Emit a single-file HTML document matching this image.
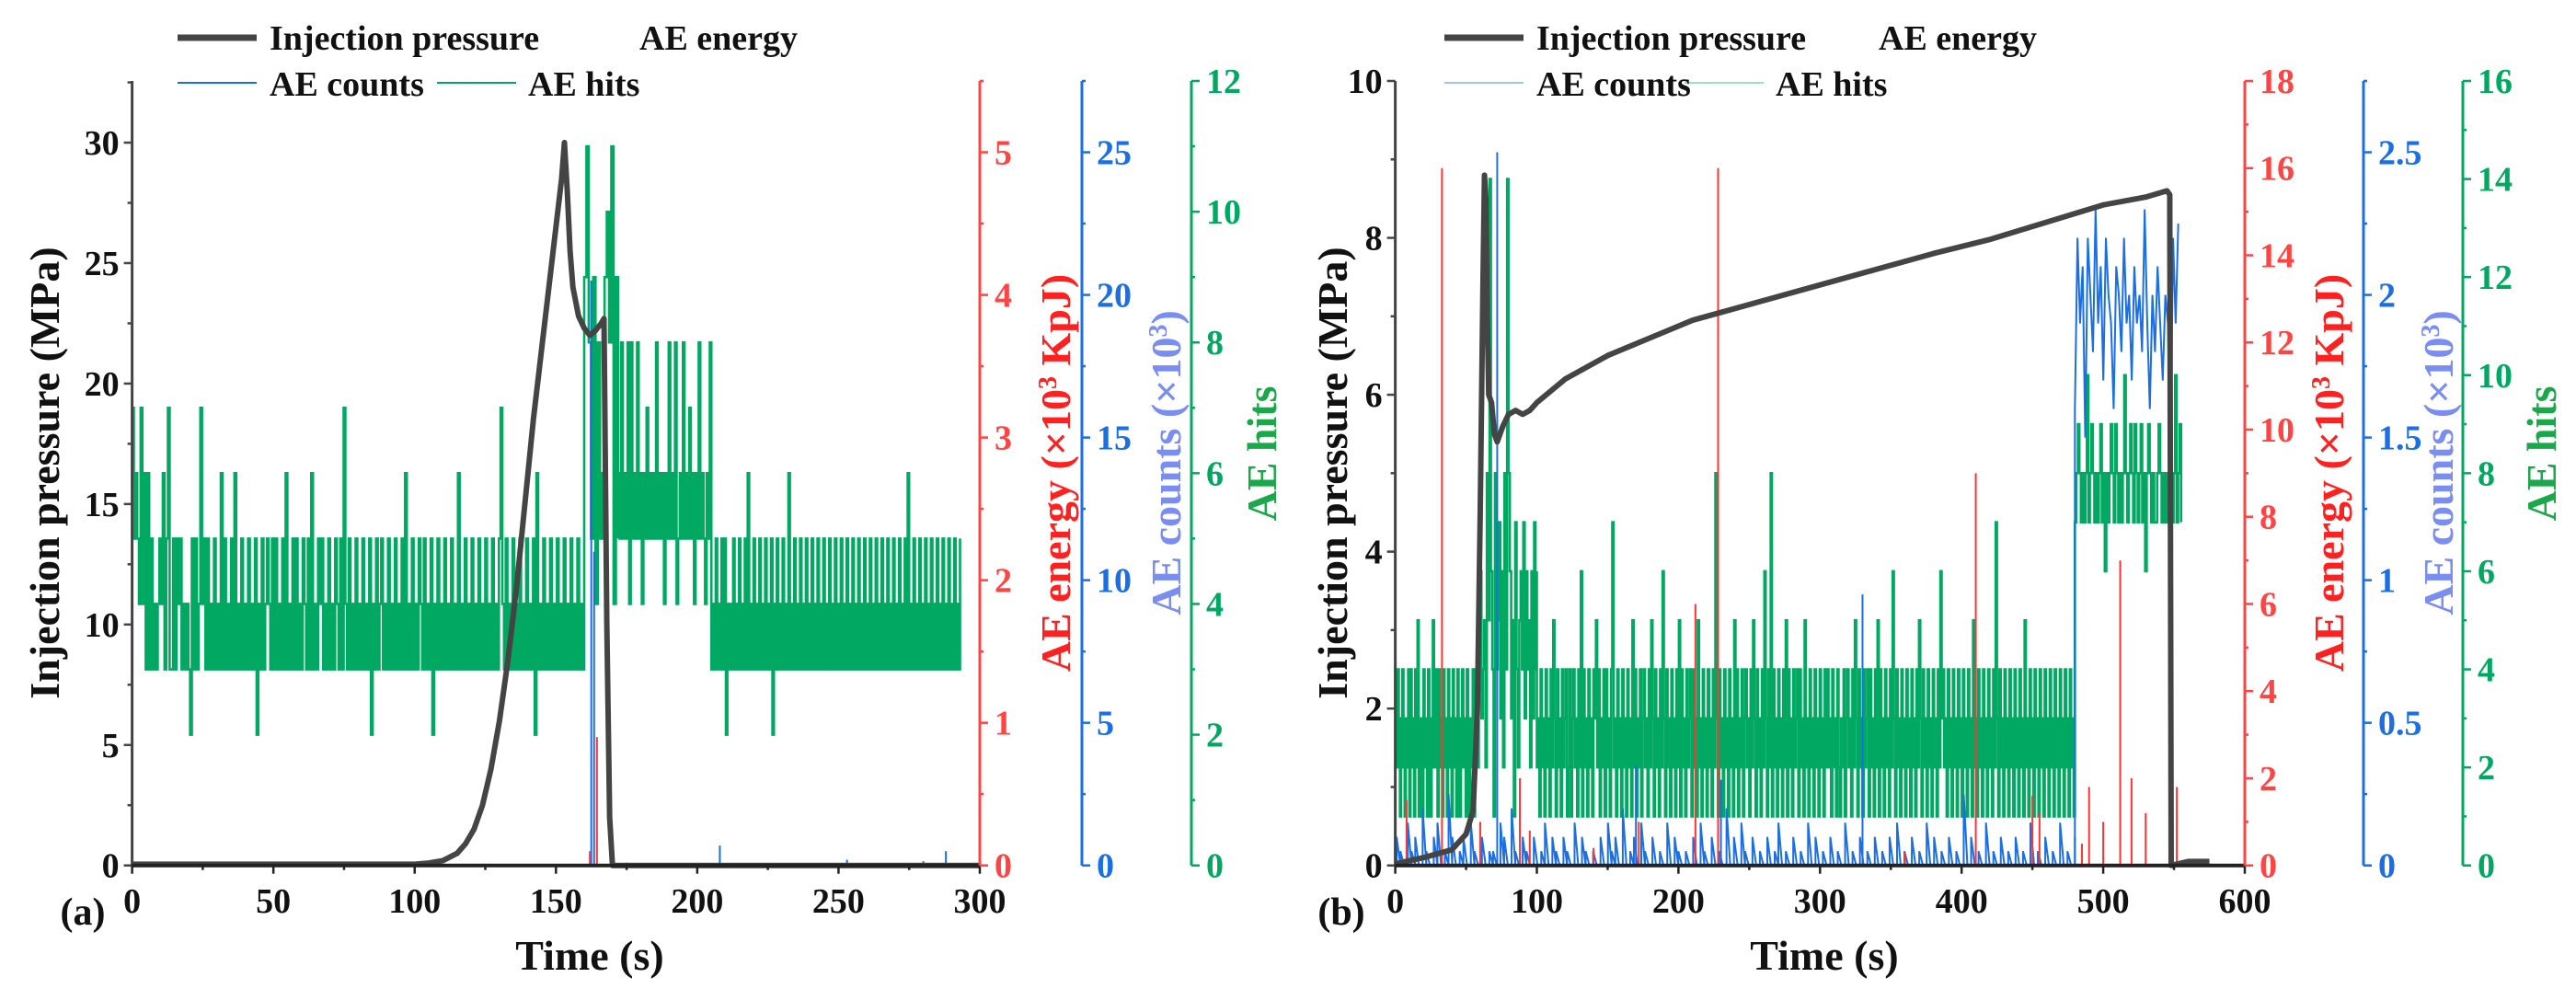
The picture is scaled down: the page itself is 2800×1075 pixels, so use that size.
<!DOCTYPE html>
<html><head><meta charset="utf-8"><style>
html,body{margin:0;padding:0;background:#fff;}
svg{display:block;font-family:"Liberation Serif",serif;font-weight:bold;}
</style></head><body>
<svg id="chart" xmlns="http://www.w3.org/2000/svg" width="2800" height="1075" viewBox="0 0 2800 1075"></svg>
<script>
// ---------- Panel (a) data ----------
const pressA_t = [0,50,100,105,110,115,118,121,124,127,130,133,136,139,142,145,148,150,152,153,154,155,156,158,160,162,164,166,167,168,169,170,300];
const pressA_v = [0.05,0.05,0.05,0.1,0.2,0.5,0.9,1.5,2.5,4,6,8.5,11.5,15,18.5,21.5,24.5,26.5,28.5,30,28,25.5,24,22.8,22.3,22,22.2,22.5,22.7,10,2,0,0];
const hitsA_t0 = [0,160,172,205];
const hitsA_t1 = [160,172,205,293];
const hitsA_s = [
 "75654746363534345463573353545343432535347453534353436353435363435343534352435345435353435363435353435435363435453435343543537435343534353435243534534353435343536343534354353435243534353435343634353435343534353435343574353435343534353435263435343534353435343534353435",
 "9b85948569a8b495",
 "658565848565856465756565856564658565845658565756465856546585",
 "3435343535243435343534353634353435343534352435343534363435343534353435343534353435343534353435343534353435343534353435343534353435343536343534353435343534353435343534353435"
];
const energyA_t = [162,164.5];
const energyA_v = [0.1,0.9];
const countsA_t = [10,162.5,163.5,175,208,253,280,288];
const countsA_v = [0.1,20.5,11,0.1,0.7,0.2,0.15,0.5];
// ---------- Panel (b) data ----------
const pressB_t = [0,20,40,50,55,58,60,62,63,64,65,66,68,70,72,76,80,85,90,95,100,110,120,130,150,170,190,210,230,260,300,340,380,420,460,500,530,545,547,548,560,575];
const pressB_v = [0.02,0.1,0.2,0.4,0.7,2,4.5,7.5,8.8,8.5,7,6,5.9,5.5,5.4,5.6,5.75,5.8,5.75,5.8,5.9,6.05,6.2,6.3,6.5,6.65,6.8,6.95,7.05,7.2,7.4,7.6,7.8,7.98,8.2,8.42,8.52,8.6,8.55,0,0.05,0.05];
const hitsB_t0 = [0,58,100,480];
const hitsB_t1 = [58,100,480,555];
const hitsB_s = [
 "32421342132414231425123142314213524314231423142314231421342314213241423",
 "246345285e641845736284e8635174256473645263746",
 "231423142314253142314234124134231426142314231435241324142314723142314231423152413241342314253142314263142314231425142314234142315231423142314283142314231423152413241342314253142314263142814231423142514231423414231523142314231423142423142314213241342314253142314234142314251423142314263142314231423142314253142314231423142634231423142314231423142315231423142314231427314231423142314231423152314231423142314231423142314231423142314",
 "78987878a789878789786878987987878a878987987897868987877898787879878a7897"
];
const countsB_low = "2103120410230152012031020110320410210201302102103021010203120401203102010302101020310201040203102010201301020103020102010301020102010203010201030201020105020103010201020103010201030102";
const countsB_high = [1.6,2.2,1.9,2.1,1.5,2.2,2.0,1.8,2.3,1.9,2.1,1.7,2.2,2.0,1.9,1.6,2.1,2.0,1.8,2.2,1.9,2.0,1.7,2.1,1.9,2.0,1.8,2.3,1.9,1.6,2.0,1.8,2.1,1.9,1.7,2.0,1.9,1.4,2.2,1.9,2.25];
const countsB_spk_t = [72,330,170,230];
const countsB_spk_v = [2.5,0.95,0.35,0.3];
const energyB_t = [8,33,60,88,95,140,172,212,228,360,410,450,455,485,490,500,512,520,530,552];
const energyB_v = [1.5,16,1,2,0.8,0.4,1,6,16,0.3,9,1.6,1.2,0.5,1.8,1,7,2,1.2,1.8];

const NS="http://www.w3.org/2000/svg";
const svg=document.getElementById('chart');
function mk(tag,attrs,parent){const e=document.createElementNS(NS,tag);for(const k in attrs)e.setAttribute(k,attrs[k]);(parent||svg).appendChild(e);return e;}
const Y0=940.7, YT=88;

function panel(P){
  const g=mk('g',{});
  
  
  const xs=t=>P.xL+t/P.tMax*(P.xR-P.xL);
  const ys=(v,m)=>Y0-v/m*(Y0-YT);
  let pts=[];
  for(let s=0;s<P.hitsS.length;s++){
    const str=P.hitsS[s], n=str.length;
    for(let i=0;i<n;i++){
      const t=P.hitsT0[s]+(P.hitsT1[s]-P.hitsT0[s])*i/(n-1);
      const v=parseInt(str[i],16);
      const x=xs(t);
      if(pts.length){pts.push(x+','+pts[pts.length-1].split(',')[1]);}
      pts.push(x+','+ys(v,P.gMax));
    }
  }
  const hl=mk('polyline',{points:pts.join(' '),fill:'none',stroke:'#00a862','stroke-width':2.6},g);
  
  
  const cg=mk('g',{stroke:'#1b6fe3','stroke-width':2,fill:'none'},g);
  
  
  if(P.countsLow){
    let cp=[];const n=P.countsLow.length;
    for(let i=0;i<n;i++){const t=1+479*i/(n-1);const v=parseInt(P.countsLow[i])*0.05;cp.push(xs(t)+','+ys(0,P.bMax),xs(t)+','+ys(v,P.bMax));}
    mk('polyline',{points:cp.join(' ')},cg);
    let hp=[];const m=P.countsHigh.length;
    for(let i=0;i<m;i++){const t=480+73*i/(m-1);hp.push(xs(t)+','+ys(P.countsHigh[i],P.bMax));}
    mk('polyline',{points:xs(480)+','+ys(0,P.bMax)+' '+hp.join(' ')},cg);
  }
  for(let i=0;i<P.cT.length;i++){mk('line',{x1:xs(P.cT[i]),x2:xs(P.cT[i]),y1:ys(0,P.bMax),y2:ys(P.cV[i],P.bMax)},cg);}
  const eg=mk('g',{stroke:'#ff3434','stroke-width':2},g);
  
  
  for(let i=0;i<P.eT.length;i++){mk('line',{x1:xs(P.eT[i]),x2:xs(P.eT[i]),y1:ys(0,P.rMax),y2:ys(P.eV[i],P.rMax)},eg);}
  const pp=P.pT.map((t,i)=>xs(t)+','+ys(P.pV[i],P.pMax)).join(' ');
  const pl=mk('polyline',{points:pp,fill:'none',stroke:'#444','stroke-width':6,'stroke-linejoin':'round'},g);
  
  
  const ax=mk('g',{},g);
  
  
  mk('line',{x1:P.xL,x2:P.xL,y1:YT,y2:Y0,stroke:'#444','stroke-width':3},ax);
  mk('line',{x1:P.xL,x2:P.xR,y1:Y0,y2:Y0,stroke:'#222','stroke-width':4},ax);
  for(let v=0;v<=P.pMax+1e-9;v+=P.pStep/2){
    const y=ys(v,P.pMax); const major=Math.abs(v/P.pStep-Math.round(v/P.pStep))<1e-6;
    mk('line',{x1:P.xL-(major?9:5),x2:P.xL,y1:y,y2:y,stroke:'#444','stroke-width':2.5},ax);
    if(major){const t=mk('text',{x:P.xL-14,y:y+13,'text-anchor':'end','font-size':38,fill:'#111'},ax);t.textContent=String(Math.round(v*100)/100);
      
      }
  }
  for(let v=0;v<=P.tMax+1e-9;v+=P.tStep/2){
    const x=xs(v); const major=Math.abs(v/P.tStep-Math.round(v/P.tStep))<1e-6;
    mk('line',{x1:x,x2:x,y1:Y0,y2:Y0+(major?9:5),stroke:'#222','stroke-width':2.5},ax);
    if(major){const t=mk('text',{x:x,y:992,'text-anchor':'middle','font-size':38,fill:'#111'},ax);t.textContent=String(v);
      
      }
  }
  const R=[[P.xR,P.rMax,P.rStep,'#ff4444','red'],[P.xB,P.bMax,P.bStep,'#1b6fe3','blue'],[P.xG,P.gMax,P.gStep,'#00a862','green']];
  R.forEach(r=>{
    const [x,m,st,col,nm]=r;
    const a=mk('g',{},ax);
    
    
    mk('line',{x1:x,x2:x,y1:YT,y2:Y0,stroke:col,'stroke-width':3},a);
    for(let k=0;k*st/2<=m+1e-9;k++){
      const v=k*st/2, y=ys(v,m), major=k%2===0;
      mk('line',{x1:x,x2:x+(major?9:4),y1:y,y2:y,stroke:col,'stroke-width':2.5},a);
      if(major){const t=mk('text',{x:x+16,y:y+13,'font-size':38,fill:col},a);t.textContent=String(Math.round(v*100)/100);
        
        }
    }
  });
  return g;
}
panel({name:'panel-a',xL:143.6,xR:1065,tMax:300,tStep:50,pMax:32.56,pStep:5,rMax:5.5,rStep:1,xB:1176,bMax:27.5,bStep:5,xG:1295,gMax:12,gStep:2,
  hitsS:hitsA_s,hitsT0:hitsA_t0,hitsT1:hitsA_t1,cT:countsA_t,cV:countsA_v,eT:energyA_t,eV:energyA_v,pT:pressA_t,pV:pressA_v});
panel({name:'panel-b',xL:1516.6,xR:2440,tMax:600,tStep:100,pMax:10,pStep:2,rMax:18,rStep:2,xB:2569,bMax:2.75,bStep:0.5,xG:2677,gMax:16,gStep:2,
  hitsS:hitsB_s,hitsT0:hitsB_t0,hitsT1:hitsB_t1,countsLow:countsB_low,countsHigh:countsB_high,cT:countsB_spk_t,cV:countsB_spk_v,eT:energyB_t,eV:energyB_v,pT:pressB_t,pV:pressB_v});

function txt(x,y,s,size,col,rot,name,anchor){
  const t=mk('text',{x:x,y:y,'font-size':size,fill:col,'text-anchor':anchor||'middle'});
  if(rot)t.setAttribute('transform','rotate(-90 '+x+' '+y+')');
  t.innerHTML=s;
  
  
  return t;
}
const sup='<tspan baseline-shift="super" font-size="28">3</tspan>';
txt(641,1054,'Time (s)',46,'#111',0,'x-axis-title');
txt(90,1005,'(a)',42,'#111',0,'panel-label');
txt(1983,1054,'Time (s)',46,'#111',0,'x-axis-title');
txt(1458,1005,'(b)',42,'#111',0,'panel-label');
txt(64,514,'Injection pressure (MPa)',46,'#111',1,'y-axis-title-pressure');
txt(1163,514,'AE energy (×10'+sup+' KpJ)',46,'#ff2020',1,'y-axis-title-energy');
txt(1283,503,'AE counts (×10'+sup+')',46,'#7a8df0',1,'y-axis-title-counts');
txt(1387,493,'AE hits',46,'#1aa84a',1,'y-axis-title-hits');
txt(1464,514,'Injection pressure (MPa)',46,'#111',1,'y-axis-title-pressure');
txt(2547,514,'AE energy (×10'+sup+' KpJ)',46,'#ff2020',1,'y-axis-title-energy');
txt(2666,503,'AE counts (×10'+sup+')',46,'#7a8df0',1,'y-axis-title-counts');
txt(2778,493,'AE hits',46,'#1aa84a',1,'y-axis-title-hits');

function legend(x0,gx,ex,lightLines,name){
  const g=mk('g',{});
  
  
  mk('line',{x1:x0,x2:x0+86,y1:41,y2:41,stroke:'#444','stroke-width':7},g);
  mk('line',{x1:x0,x2:x0+86,y1:90,y2:90,stroke:lightLines?'#9cc4f5':'#1b6fe3','stroke-width':2},g);
  mk('line',{x1:gx,x2:gx+86,y1:90,y2:90,stroke:lightLines?'#9be0bf':'#00a862','stroke-width':2},g);
  [['Injection pressure',x0+100,54],['AE energy',ex,54],['AE counts',x0+100,104],['AE hits',gx+99,104]].forEach(a=>{
    const t=mk('text',{x:a[1],y:a[2],'font-size':38,fill:'#111'},g);t.textContent=a[0];
    
    
  });
}
legend(193,475,695,false,'legend-a');
legend(1570,1831,2042,true,'legend-b');
</script>
</body></html>
